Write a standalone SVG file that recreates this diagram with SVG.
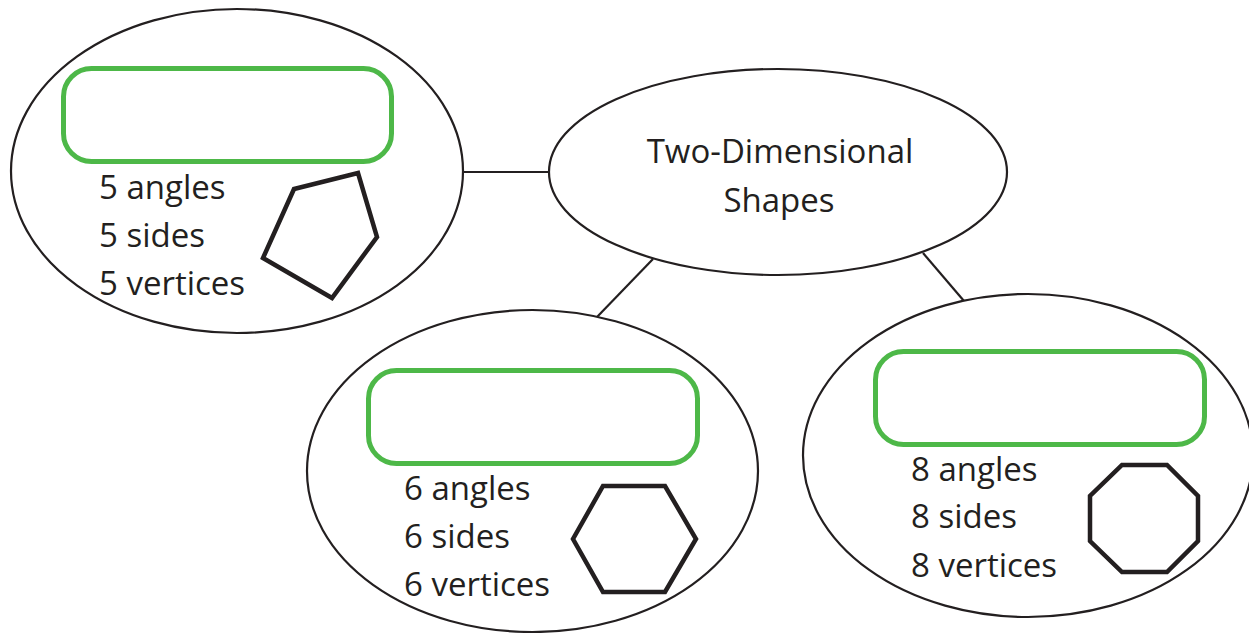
<svg xmlns="http://www.w3.org/2000/svg" width="1249" height="633" viewBox="0 0 1249 633">
<style>
.ell{fill:#fff;stroke:#231f20;stroke-width:2.2}
.con{stroke:#231f20;stroke-width:2.2;fill:none}
.box{fill:none;stroke:#4db848;stroke-width:5}
.shp{fill:none;stroke:#231f20;stroke-width:4.5;stroke-linejoin:miter}
.t{font-family:"Open Sans","Noto Sans",sans-serif;font-size:33px;fill:#231f20}
.title{font-family:"Open Sans","Noto Sans",sans-serif;font-size:33px;fill:#231f20;text-anchor:middle}
</style>
<rect width="1249" height="633" fill="#fff"/>
<g id="connectors">
<line class="con" x1="463" y1="172" x2="549" y2="172"/>
<line class="con" x1="653" y1="259" x2="597" y2="317"/>
<line class="con" x1="923" y1="253" x2="964" y2="301"/>
</g>
<g id="pentagon-node">
<ellipse class="ell" cx="237" cy="171" rx="226" ry="162"/>
<rect class="box" x="63.5" y="68.5" width="328" height="93" rx="28"/>
<text class="t" x="99" y="199">5 angles</text>
<text class="t" x="99" y="247">5 sides</text>
<text class="t" x="99" y="295">5 vertices</text>
<polygon class="shp" points="294,189 358,173 377,237 332,298 263,258"/>
</g>
<g id="root-node">
<ellipse class="ell" cx="778" cy="172" rx="229" ry="103"/>
<text class="title" x="780" y="163">Two-Dimensional</text>
<text class="title" x="779" y="212">Shapes</text>
</g>
<g id="hexagon-node">
<ellipse class="ell" cx="532.5" cy="471" rx="225.5" ry="161"/>
<rect class="box" x="368.5" y="370.5" width="329" height="93" rx="28"/>
<text class="t" x="404" y="500">6 angles</text>
<text class="t" x="404" y="548">6 sides</text>
<text class="t" x="404" y="596">6 vertices</text>
<polygon class="shp" points="603,486 665,486 696,539 665,592 603,592 573,539"/>
</g>
<g id="octagon-node">
<ellipse class="ell" cx="1028" cy="455.5" rx="225" ry="161.5"/>
<rect class="box" x="875.5" y="351.5" width="329" height="93" rx="28"/>
<text class="t" x="911" y="481">8 angles</text>
<text class="t" x="911" y="528">8 sides</text>
<text class="t" x="911" y="577">8 vertices</text>
<polygon class="shp" points="1122,465 1167,465 1198,496 1198,541 1167,572 1122,572 1090,541 1090,496"/>
</g>
</svg>
